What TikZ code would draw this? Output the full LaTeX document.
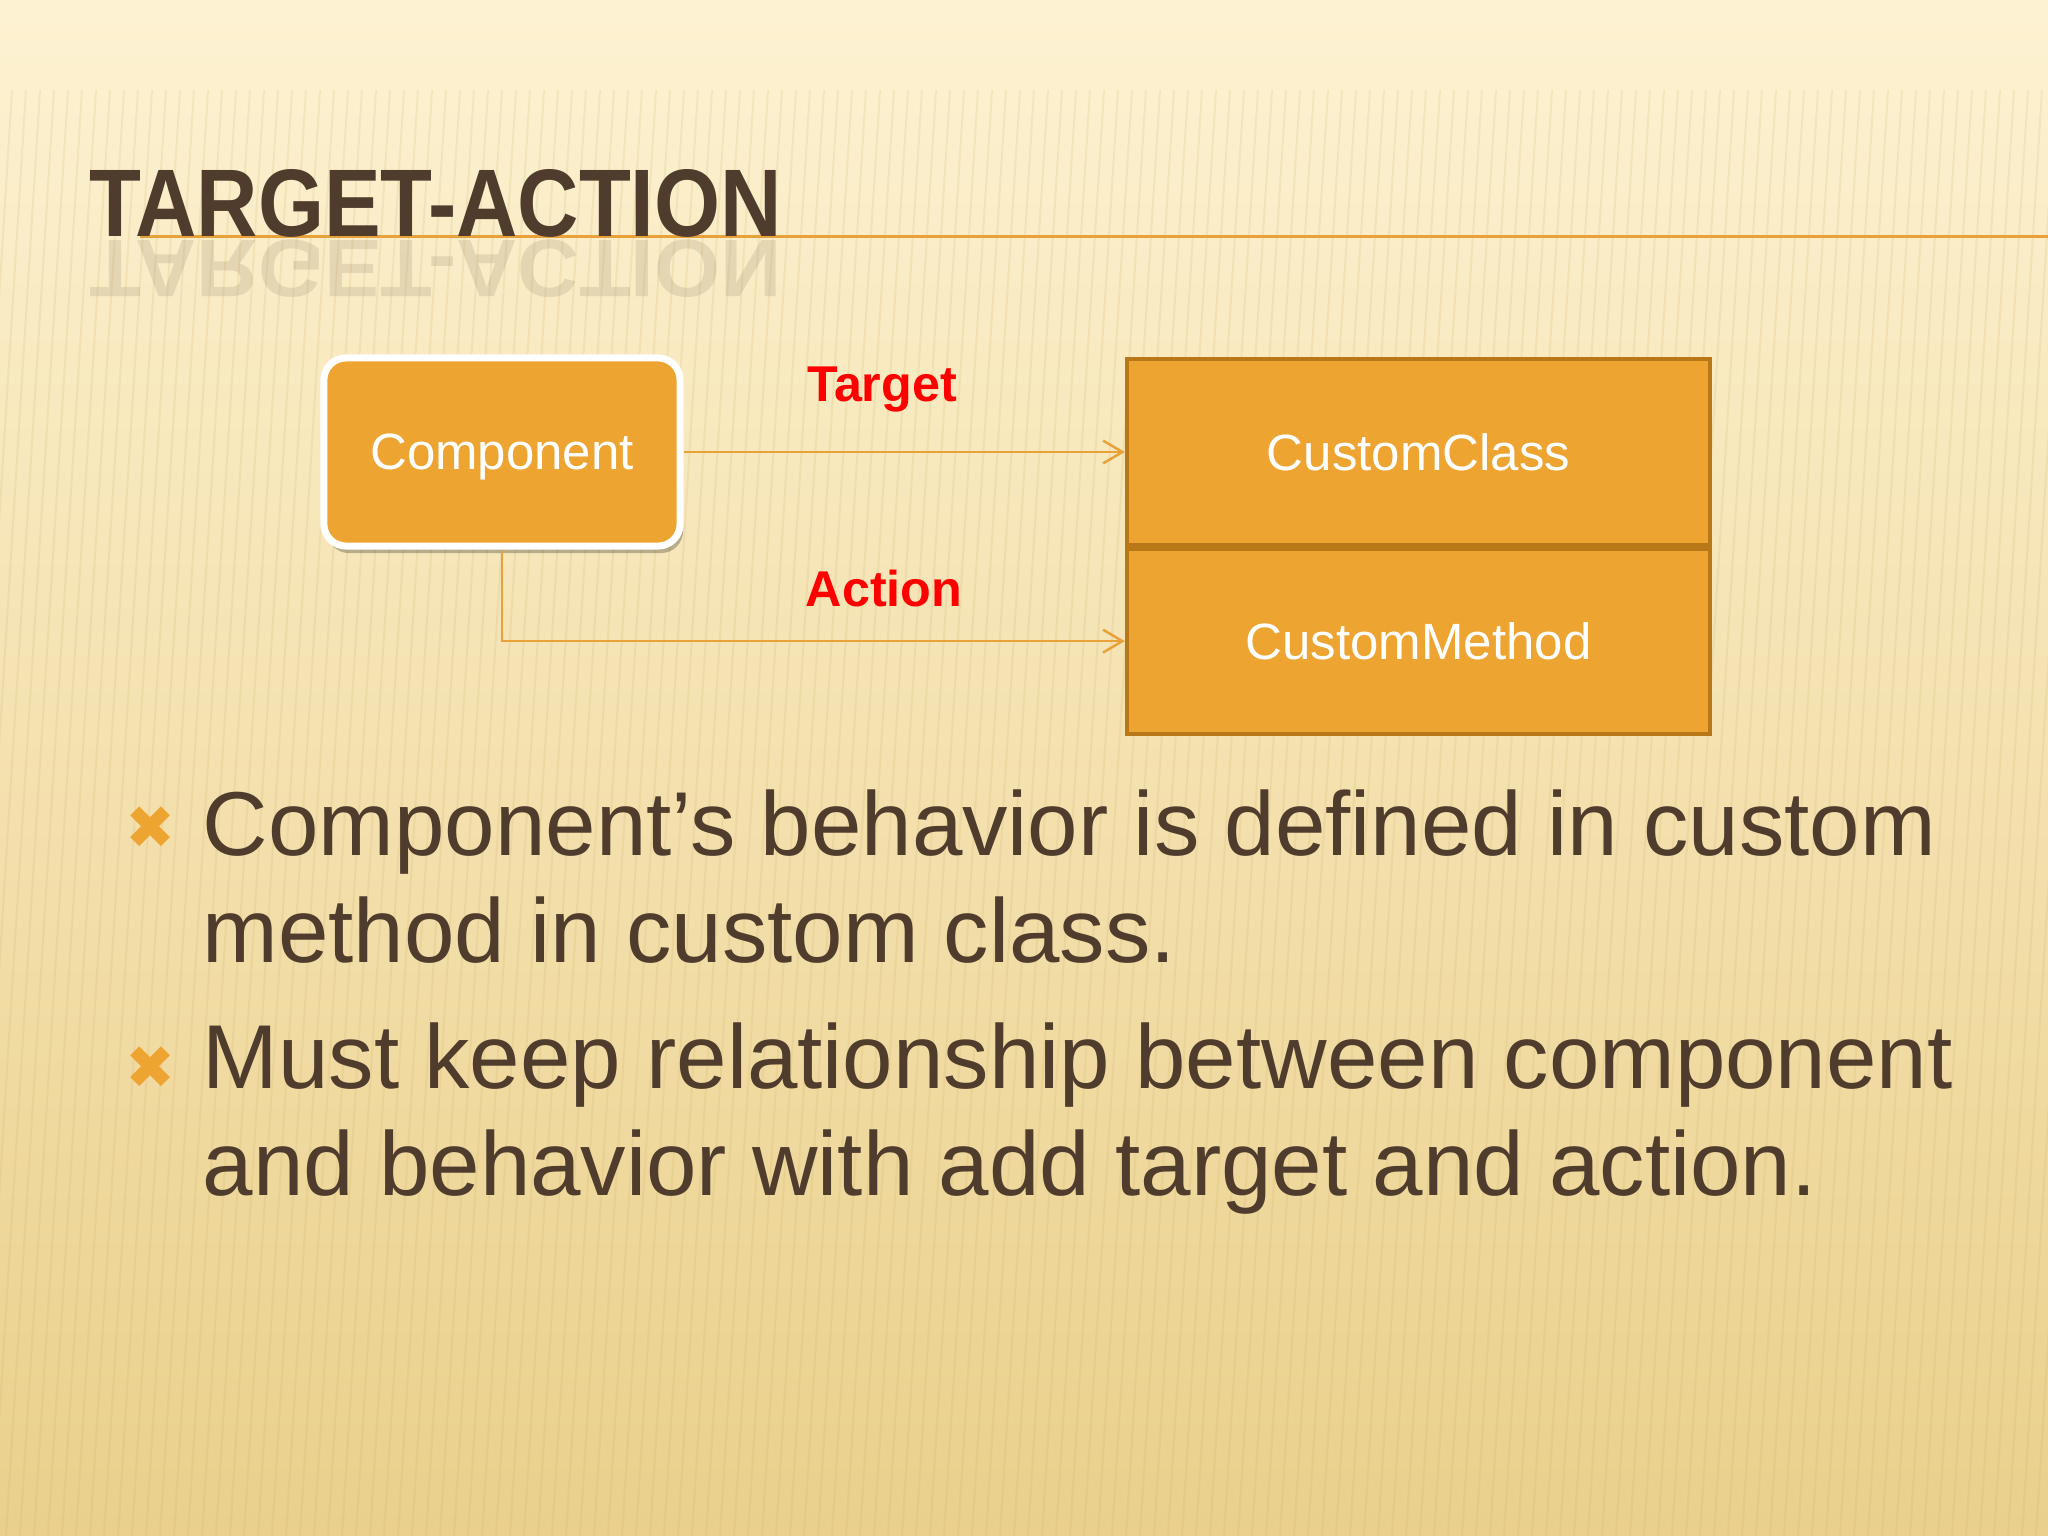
\documentclass[tikz,border=0pt]{standalone}
\usepackage{fontspec}
\setmainfont{Liberation Sans}
\newfontfamily\titlefont[FakeStretch=0.885]{Liberation Sans Bold}
\newfontfamily\symfont{DejaVu Sans}
\usetikzlibrary{positioning,arrows.meta,shadows}

\definecolor{slidetext}{HTML}{4F3C2D}
\definecolor{boxorange}{HTML}{EEA431}
\definecolor{boxedge}{HTML}{B97818}
\definecolor{lineorange}{HTML}{E9A23A}
\definecolor{bgtop}{HTML}{FDF2D2}
\definecolor{bgmid}{HTML}{F8E5AE}
\definecolor{bgbottom}{HTML}{EAD08C}
\definecolor{stripecol}{HTML}{C9A458}

\tikzset{
  compbox/.style={draw=white, line width=0.07cm, fill=boxorange, rounded corners=0.22cm,
    minimum width=3.56cm, minimum height=1.88cm, text=white, text depth=0pt,
    font=\fontsize{14.5}{17}\selectfont,
    drop shadow={shadow xshift=0.03cm, shadow yshift=-0.07cm, fill=black, opacity=0.25}},
  classbox/.style={draw=boxedge, line width=0.04cm, fill=boxorange,
    minimum width=5.83cm, minimum height=1.85cm, text=white,
    font=\fontsize{14.5}{17}\selectfont},
  link/.style={draw=lineorange, line width=0.025cm, -{Straight Barb[length=5.5pt,width=6.5pt]}},
  linklabel/.style={text=red, font=\bfseries\fontsize{14.3}{17}\selectfont},
  bullettext/.style={text=slidetext, align=left, anchor=base west, inner sep=0pt,
    font=\fontsize{25.8}{30.2}\selectfont},
  bulletmark/.style={text=boxorange, font=\symfont\fontsize{17}{17}\selectfont, inner sep=0pt},
  stripe/.style={draw=stripecol, line width=0.02cm, opacity=0.14}
}

\begin{document}
\begin{tikzpicture}[x=0.01cm, y=-0.01cm]
    \useasboundingbox (0,0) rectangle (2048,1536);

    % background
    \shade[top color=bgtop, middle color=bgmid, bottom color=bgbottom] (0,0) rectangle (2048,1536);
    \foreach \x in {-100,-86,...,2200}
        \draw[stripe] (\x,90) -- (\x-90,1536);

    % title and rule
    \draw[draw=lineorange, line width=0.03cm] (140,236) -- (2048,236);
    \node[anchor=base west, inner sep=0pt, text=slidetext, font=\titlefont\fontsize{27.3}{30}\selectfont] (title) at (89,236) {TARGET-ACTION};
    \node[anchor=base west, inner sep=0pt, text=slidetext, opacity=0.12, yscale=-0.85, transform shape,
          font=\titlefont\fontsize{27.3}{30}\selectfont] (titlemirror) at (89,240) {TARGET-ACTION};

    % component
    \node[compbox] (comp) at (502,452) {Component};

    % custom class and method
    \node[classbox, right=4.41cm of comp] (cls) {CustomClass};
    \node[classbox, below=0cm of cls] (meth) {CustomMethod};

    % target-action links
    \draw[link] (comp) -- (cls);
    \draw[link] (comp.south) |- (meth.west);
    \node[linklabel] (target) at (882,390) {Target};
    \node[linklabel] (action) at (884,589) {Action};

    % bullets (base anchor sits on the last line)
    \node[bulletmark] (mark1) at (151,828) {✖};
    \node[bullettext] (bullet1) at (202,962) {Component’s behavior is defined in custom\\method in custom class.};
    \node[bulletmark] (mark2) at (151,1068) {✖};
    \node[bullettext] (bullet2) at (202,1195) {Must keep relationship between component\\and behavior with add target and action.};

\end{tikzpicture}
\end{document}
